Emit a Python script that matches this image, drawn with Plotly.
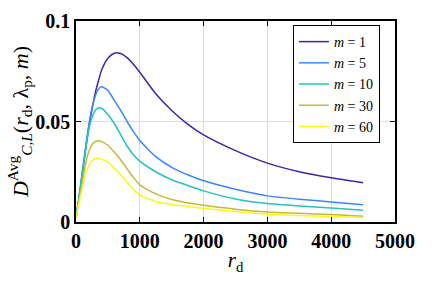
import plotly.graph_objects as go

r_d = [0, 50, 100, 150, 200, 250, 300, 350, 400, 500, 600, 700, 800, 900, 1000,
       1250, 1500, 1750, 2000, 2500, 3000, 3500, 4000, 4500]

m_labels = ["1", "5", "10", "30", "60"]
d_m1 = [0.002, 0.012, 0.024, 0.036, 0.047, 0.056, 0.064, 0.070, 0.0755, 0.0815, 0.0840, 0.0838,
        0.0818, 0.0785, 0.0745, 0.0638, 0.0555, 0.0487, 0.0433, 0.0355, 0.0293, 0.0250, 0.0220, 0.0195]
d_m5 = [0.002, 0.013, 0.025, 0.037, 0.048, 0.0565, 0.0625, 0.066, 0.0673, 0.0655, 0.0605, 0.0555,
        0.0500, 0.0450, 0.0405, 0.0325, 0.0272, 0.0235, 0.0205, 0.0163, 0.0130, 0.0113, 0.0100, 0.0086]
d_m10 = [0.002, 0.013, 0.025, 0.036, 0.046, 0.052, 0.0555, 0.0567, 0.0566, 0.0535, 0.0490, 0.0435,
         0.0378, 0.0335, 0.0303, 0.0250, 0.0210, 0.0182, 0.0155, 0.0115, 0.0092, 0.0080, 0.0070, 0.0059]
d_m30 = [0.002, 0.011, 0.020, 0.029, 0.035, 0.0385, 0.0400, 0.0404, 0.0400, 0.0382, 0.0348, 0.0310,
         0.0265, 0.0222, 0.0185, 0.0140, 0.0112, 0.0096, 0.0083, 0.0064, 0.0050, 0.0043, 0.0037, 0.0029]
d_m60 = [0.002, 0.010, 0.017, 0.024, 0.028, 0.0305, 0.0315, 0.0317, 0.0313, 0.0298, 0.0268, 0.0235,
         0.0198, 0.0163, 0.0135, 0.0102, 0.0087, 0.0077, 0.0067, 0.0052, 0.0038, 0.0032, 0.0027, 0.0022]

series = [d_m1, d_m5, d_m10, d_m30, d_m60]
colors = ["#3E26A8", "#3A86FF", "#22C4C0", "#C8B83A", "#F8F81A"]

x_ticks = [0, 1000, 2000, 3000, 4000, 5000]
y_ticks = [0, 0.05, 0.1]
y_ticktext = ["0", "0.05", "0.1"]

fig = go.Figure()
for lab, ys, c in zip(m_labels, series, colors):
    fig.add_trace(go.Scatter(
        x=r_d, y=ys, mode="lines", name=f"<i>m</i> = {lab}",
        line=dict(color=c, width=1.5, shape="spline", smoothing=0.6),
    ))

serif = "Liberation Serif"
fig.update_layout(
    width=436, height=281,
    margin=dict(l=76, r=41, t=21, b=59),
    plot_bgcolor="white", paper_bgcolor="white",
    font=dict(family=serif, color="black"),
    legend=dict(
        x=0.68, y=0.98, xanchor="left", yanchor="top",
        bgcolor="white", bordercolor="black", borderwidth=1,
        font=dict(family=serif, size=14), itemwidth=30,
        tracegroupgap=0,
    ),
    showlegend=True,
)
fig.update_xaxes(
    range=[0, 5000], tickvals=x_ticks, ticktext=[str(v) for v in x_ticks],
    showgrid=True, gridcolor="#DDDDDD", gridwidth=1,
    showline=True, linecolor="black", linewidth=1.5, mirror="ticks",
    ticks="inside", ticklen=5, tickcolor="black",
    tickfont=dict(family=serif, size=20, weight="bold"),
    title=dict(text="<i>r</i><sub>d</sub>", font=dict(family=serif, size=21), standoff=2),
    zeroline=False, automargin=False,
)
fig.update_yaxes(
    range=[0, 0.1], tickvals=y_ticks, ticktext=y_ticktext,
    showgrid=True, gridcolor="#DDDDDD", gridwidth=1,
    showline=True, linecolor="black", linewidth=1.5, mirror="ticks",
    ticks="inside", ticklen=5, tickcolor="black",
    tickfont=dict(family=serif, size=20, weight="bold"),
    title=dict(text="<i>D</i><sup>Avg</sup><sub><i>C,L</i></sub>(<i>r</i><sub>d</sub>, λ<sub>p</sub>, <i>m</i>)",
               font=dict(family=serif, size=22), standoff=0),
    zeroline=False, automargin=False,
)
fig.write_html("out.html", config={"displayModeBar": False},
               post_script="document.body.style.margin='0';")
